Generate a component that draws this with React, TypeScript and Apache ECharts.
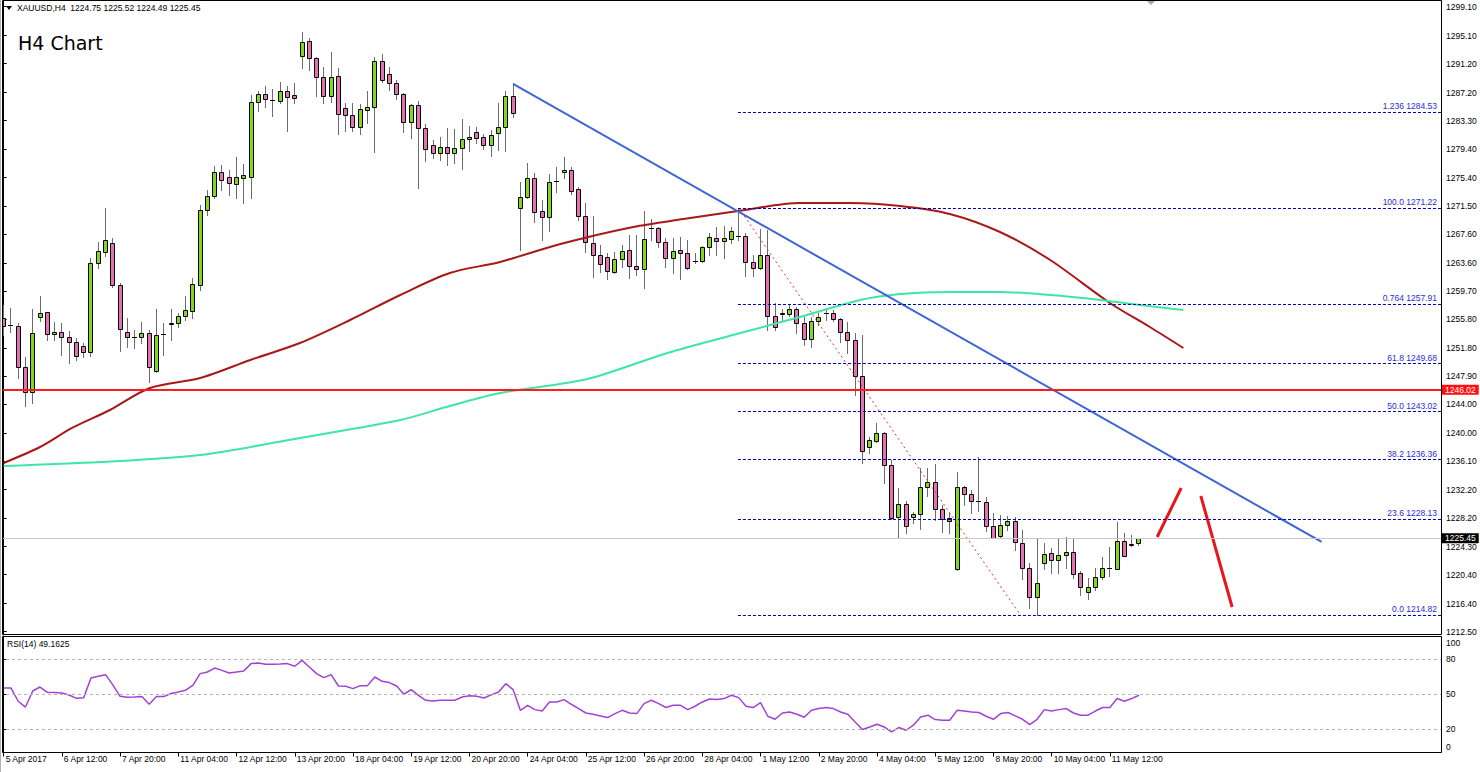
import React, { useEffect, useRef } from 'react';
import * as echarts from 'echarts';

const FONT = "'Liberation Sans', Arial, sans-serif";

// H4 candles, index 0 = 5 Apr 2017 04:00
const opens = [1255.97, 1255.00, 1254.86, 1249.18, 1245.71, 1256.11, 1256.80, 1253.75, 1254.03, 1253.34,
  1252.64, 1252.09, 1251.26, 1263.59, 1265.11, 1266.36, 1260.54, 1254.03, 1253.34, 1253.34,
  1253.89, 1248.62, 1253.75, 1255.14, 1255.28, 1256.25, 1256.94, 1260.54, 1270.93, 1272.87,
  1276.20, 1275.51, 1274.54, 1275.37, 1275.51, 1285.90, 1287.01, 1286.17, 1286.04, 1287.42,
  1286.87, 1292.27, 1294.35, 1291.99, 1289.36, 1286.73, 1289.50, 1285.07, 1284.10, 1282.43,
  1284.79, 1285.20, 1291.58, 1289.78, 1288.53, 1287.01, 1283.13, 1285.48, 1282.29, 1279.94,
  1278.83, 1279.66, 1278.83, 1279.52, 1280.77, 1281.74, 1281.05, 1279.94, 1281.60, 1282.43,
  1286.73, 1271.21, 1272.73, 1275.37, 1270.79, 1269.96, 1274.95, 1276.20, 1276.48, 1273.84,
  1270.10, 1266.36, 1264.70, 1264.42, 1262.34, 1264.14, 1265.39, 1263.17, 1262.76, 1268.44,
  1268.44, 1266.50, 1264.28, 1265.39, 1264.97, 1263.87, 1263.87, 1265.81, 1267.05, 1266.64,
  1266.91, 1267.33, 1267.33, 1263.73, 1262.90, 1264.70, 1256.25, 1256.52, 1256.52, 1257.22,
  1255.28, 1253.06, 1255.55, 1256.59, 1256.66, 1255.83, 1254.03, 1252.92, 1247.93, 1238.09,
  1238.93, 1240.03, 1235.60, 1228.39, 1230.20, 1228.39, 1228.81, 1232.55, 1233.24, 1229.50,
  1228.26, 1221.19, 1232.55, 1231.58, 1230.61, 1230.47, 1227.15, 1225.76, 1227.29, 1227.84,
  1224.79, 1221.33, 1217.31, 1222.02, 1223.41, 1222.44, 1223.13, 1223.55, 1220.64, 1218.00,
  1218.70, 1220.08, 1221.26, 1221.19, 1225.07, 1224.52, 1224.75];

const highs = [1257.77, 1257.35, 1255.28, 1250.56, 1257.22, 1259.02, 1256.80, 1255.41, 1255.28, 1254.17,
  1253.20, 1252.50, 1264.28, 1266.50, 1271.21, 1267.05, 1260.82, 1255.97, 1254.31, 1255.41,
  1254.31, 1257.22, 1255.28, 1257.22, 1256.66, 1259.02, 1261.51, 1271.63, 1273.70, 1277.03,
  1277.17, 1276.48, 1278.28, 1277.31, 1286.87, 1287.42, 1288.11, 1287.70, 1288.67, 1288.11,
  1288.53, 1295.60, 1294.77, 1292.13, 1290.75, 1292.83, 1290.61, 1285.76, 1285.76, 1285.62,
  1287.42, 1292.13, 1292.55, 1290.75, 1288.95, 1287.14, 1285.62, 1286.04, 1282.85, 1280.63,
  1281.05, 1282.29, 1282.16, 1283.54, 1282.57, 1282.43, 1281.46, 1282.02, 1285.76, 1287.42,
  1288.53, 1274.81, 1277.45, 1276.06, 1272.32, 1275.92, 1276.89, 1278.28, 1276.89, 1274.12,
  1271.90, 1270.10, 1266.08, 1264.97, 1265.11, 1266.08, 1267.47, 1267.47, 1270.79, 1269.69,
  1268.58, 1267.05, 1267.05, 1267.19, 1266.78, 1264.97, 1265.94, 1267.75, 1268.58, 1268.72,
  1268.58, 1271.22, 1267.75, 1264.70, 1268.30, 1268.16, 1258.05, 1257.22, 1257.91, 1257.49,
  1256.11, 1256.11, 1256.66, 1257.22, 1257.08, 1255.97, 1255.41, 1253.89, 1253.61, 1239.48,
  1241.42, 1240.17, 1236.29, 1232.41, 1230.61, 1229.09, 1235.18, 1235.18, 1235.74, 1230.06,
  1228.95, 1234.63, 1232.69, 1232.14, 1236.71, 1231.17, 1228.95, 1228.67, 1228.53, 1228.39,
  1226.59, 1222.02, 1225.49, 1224.79, 1224.10, 1225.49, 1225.62, 1225.49, 1220.91, 1219.94,
  1221.33, 1222.85, 1224.24, 1227.70, 1226.18, 1225.90, 1225.52];

const lows = [1253.61, 1254.03, 1247.65, 1243.78, 1244.19, 1255.55, 1252.92, 1252.92, 1250.84, 1249.73,
  1250.15, 1250.56, 1250.70, 1262.90, 1264.56, 1260.26, 1251.40, 1251.95, 1251.81, 1252.50,
  1247.10, 1248.49, 1250.84, 1252.92, 1254.72, 1255.69, 1255.97, 1259.85, 1270.24, 1272.60,
  1273.70, 1273.01, 1272.60, 1271.90, 1272.60, 1284.65, 1285.20, 1283.96, 1285.76, 1281.88,
  1285.76, 1290.61, 1290.33, 1286.73, 1285.76, 1285.90, 1281.46, 1281.88, 1281.88, 1281.46,
  1282.99, 1278.97, 1288.67, 1287.56, 1286.31, 1281.74, 1280.91, 1273.98, 1277.72, 1278.14,
  1277.86, 1277.17, 1277.45, 1276.61, 1279.11, 1280.22, 1279.39, 1278.42, 1279.25, 1279.11,
  1283.82, 1265.39, 1272.60, 1269.27, 1266.78, 1268.02, 1273.43, 1275.37, 1273.15, 1269.55,
  1265.11, 1261.65, 1262.34, 1261.37, 1262.20, 1263.03, 1261.51, 1261.93, 1260.12, 1266.78,
  1265.81, 1263.03, 1262.20, 1261.37, 1262.76, 1263.59, 1263.73, 1264.70, 1264.70, 1264.28,
  1266.36, 1266.78, 1261.79, 1261.79, 1262.76, 1254.31, 1254.31, 1255.69, 1256.25, 1253.89,
  1252.23, 1251.95, 1255.00, 1255.69, 1255.55, 1252.64, 1251.12, 1245.30, 1235.88, 1237.26,
  1238.79, 1233.11, 1228.12, 1225.62, 1226.18, 1227.56, 1226.73, 1231.30, 1227.98, 1226.32,
  1226.18, 1221.05, 1230.06, 1228.95, 1229.23, 1226.45, 1225.49, 1225.62, 1226.59, 1223.82,
  1219.80, 1215.79, 1214.82, 1221.19, 1220.64, 1220.64, 1221.33, 1219.94, 1217.59, 1217.03,
  1218.28, 1219.80, 1220.22, 1221.19, 1222.99, 1224.38, 1224.49];

const closes = [1254.86, 1255.00, 1249.18, 1245.71, 1253.89, 1256.66, 1253.75, 1254.03, 1253.34, 1252.64,
  1250.70, 1251.26, 1263.59, 1265.25, 1266.78, 1260.54, 1254.44, 1253.34, 1253.30, 1253.89,
  1249.18, 1253.61, 1253.70, 1255.28, 1256.25, 1257.08, 1260.68, 1270.93, 1272.87, 1276.20,
  1275.09, 1274.67, 1275.51, 1275.78, 1285.90, 1287.01, 1286.31, 1286.15, 1287.42, 1286.59,
  1286.45, 1294.21, 1291.99, 1289.36, 1286.73, 1289.36, 1284.23, 1284.10, 1282.43, 1284.93,
  1285.20, 1291.58, 1288.95, 1288.53, 1287.01, 1283.13, 1285.48, 1282.29, 1279.39, 1278.83,
  1279.66, 1278.83, 1279.52, 1280.77, 1281.05, 1280.91, 1279.94, 1281.32, 1282.43, 1286.73,
  1284.37, 1272.73, 1275.37, 1270.66, 1269.96, 1274.81, 1274.90, 1276.48, 1273.57, 1270.10,
  1266.50, 1264.70, 1263.45, 1262.48, 1264.14, 1265.25, 1263.17, 1262.76, 1266.91, 1268.40,
  1266.50, 1264.28, 1265.25, 1264.97, 1262.90, 1263.85, 1265.81, 1267.19, 1266.64, 1267.05,
  1268.02, 1267.30, 1263.73, 1262.90, 1264.70, 1256.25, 1254.72, 1256.66, 1257.22, 1255.28,
  1253.06, 1255.55, 1256.11, 1256.66, 1255.83, 1254.03, 1252.92, 1247.93, 1237.54, 1239.06,
  1240.03, 1235.60, 1228.26, 1230.20, 1227.15, 1228.81, 1232.55, 1233.24, 1229.50, 1228.12,
  1227.84, 1232.55, 1231.58, 1230.61, 1230.55, 1227.15, 1225.49, 1227.29, 1227.84, 1224.93,
  1221.33, 1217.31, 1219.25, 1223.27, 1222.44, 1223.13, 1223.55, 1220.50, 1218.70, 1218.70,
  1220.08, 1221.33, 1221.33, 1225.07, 1222.99, 1224.65, 1225.45];

const rsiValues = [55.4, 55.4, 44, 39, 52.8, 56.2, 51.7, 51.5, 51, 49.4,
  46.5, 47.1, 63.9, 65.4, 66.8, 58, 48.2, 47.4, 47.6, 48,
  41.4, 48, 48, 50.6, 52, 53.5, 57.7, 67.7, 69.1, 72.5,
  70.5, 68.2, 69.1, 69.9, 76.3, 76.8, 75.7, 75.7, 75.9, 76.3,
  74, 79.1, 73.4, 67.7, 64.3, 66.8, 57.1, 56.8, 54.8, 57.4,
  57.4, 64.8, 61.1, 60, 57.1, 50, 54, 49.1, 44.8, 44.2,
  44.8, 44.8, 44.8, 47.6, 48.8, 48.2, 46.8, 49.5, 51.9, 59.1,
  54, 36.2, 40.5, 36.8, 35.6, 43.4, 43.4, 45.4, 41.4, 37.7,
  33.9, 32.8, 31.4, 30, 33.4, 36.2, 33.9, 33.4, 42, 44.8,
  42, 38.6, 40.5, 40.5, 36.8, 39.7, 43.4, 45.9, 45.4, 46.3,
  49.1, 47.1, 39.7, 38.6, 42.8, 31.1, 28.5, 33.9, 34.8, 32.8,
  30.2, 36.2, 37.7, 38.6, 37.7, 34.8, 32.8, 26.2, 19.7, 21.9,
  24.3, 21.9, 17.7, 21.4, 19.1, 23.4, 30.5, 32, 28.3, 27.7,
  27.7, 36.2, 35.6, 34.8, 34.3, 31.1, 28.5, 33.4, 34.3, 31.4,
  28.5, 24, 28.5, 36.8, 35.6, 36.8, 37.7, 33.9, 32, 32,
  35.6, 38.6, 38.6, 46.3, 44, 46.3, 49.16];

// moving averages read at [bar position, price]
const redMA = [[0, 1235.88], [5, 1238.09], [9.4, 1240.73], [14.6, 1243.22], [20.1, 1246.27], [27, 1247.65],
  [33.9, 1250.15], [40.7, 1252.5], [47.6, 1255.69], [54.5, 1259.15], [61.3, 1262.2], [68.2, 1263.73],
  [76.5, 1266.22], [86.5, 1268.58], [93.4, 1269.68], [100.9, 1270.79], [109.4, 1271.9], [116.3, 1271.9],
  [123.2, 1271.49], [130, 1270.38], [136.9, 1267.88], [143.8, 1264.0], [152, 1258.05], [157.5, 1254.72],
  [162.1, 1251.81]];
const greenMA = [[0, 1235.46], [13.3, 1236.01], [27, 1236.98], [40.7, 1239.34], [54.5, 1241.83], [61.3, 1243.77],
  [68.2, 1245.57], [80.2, 1247.51], [91.2, 1251.12], [100.2, 1253.61], [109.4, 1256.1], [117.7, 1258.46],
  [123.2, 1259.29], [130, 1259.57], [136.9, 1259.57], [143.8, 1259.15], [150.7, 1258.46], [156.2, 1257.77],
  [162.1, 1257.08]];

const trendLine = [[70, 1288.4], [181.1, 1224.93]];
const arrowUp = [[158.5, 1225.62], [161.8, 1232.41]];
const arrowDown = [[164.5, 1231.3], [168.8, 1215.92]];
const fibDiagonal = [[101, 1271.22], [139.7, 1214.82]];
const fibStart = 100.9;
const fibRatios = ['1.236', '100.0', '0.764', '61.8', '50.0', '38.2', '23.6', '0.0'];
const fibPrices = [1284.53, 1271.22, 1257.91, 1249.68, 1243.02, 1236.36, 1228.13, 1214.82];
const supportLevel = 1246.02;
const lastPrice = 1225.45;

const priceTicks = [1212.5, 1216.4, 1220.4, 1224.3, 1228.2, 1232.2, 1236.1, 1240.0, 1244.0, 1247.9, 1251.8,
  1255.8, 1259.7, 1263.6, 1267.6, 1271.5, 1275.4, 1279.4, 1283.3, 1287.2, 1291.2, 1295.1, 1299.1];
const timeLabels = ['5 Apr 2017', '6 Apr 12:00', '7 Apr 20:00', '11 Apr 04:00', '12 Apr 12:00', '13 Apr 20:00',
  '18 Apr 04:00', '19 Apr 12:00', '20 Apr 20:00', '24 Apr 04:00', '25 Apr 12:00', '26 Apr 20:00',
  '28 Apr 04:00', '1 May 12:00', '2 May 20:00', '4 May 04:00', '5 May 12:00', '8 May 20:00',
  '10 May 04:00', '11 May 12:00'];
const timeLabelStep = 8;
const rsiTicks = [0, 20, 50, 80, 100];
const rsiLevels = [80, 50, 20];

const SLOT_MIN = -0.5;
const SLOT_MAX = 197.5;
const BULL = '#84d81c';
const BEAR = '#e571b4';

function buildOption(): any {
  const candleData = opens.map((o, i) => [i, o, closes[i], lows[i], highs[i]]);
  const rsiData = rsiValues.map((v, i) => [i, v]);
  const timeTicks = timeLabels.map((_, k) => k * timeLabelStep);

  const renderCandle = (params: any, api: any) => {
    const i = api.value(0);
    const o = api.value(1), c = api.value(2), l = api.value(3), h = api.value(4);
    const po = api.coord([i, o]);
    const pc = api.coord([i, c]);
    const pl = api.coord([i, l]);
    const ph = api.coord([i, h]);
    const n = Math.floor(po[0]);
    const cx = n + 0.5;
    const yTop = Math.round(Math.min(po[1], pc[1]));
    const yBot = Math.round(Math.max(po[1], pc[1]));
    const children: any[] = [
      { type: 'line', shape: { x1: cx, y1: Math.round(ph[1]), x2: cx, y2: Math.round(pl[1]) + 1 }, style: { stroke: '#6c6c6c', lineWidth: 1 } },
    ];
    if (yBot - yTop < 1) {
      children.push({ type: 'line', shape: { x1: n - 2, y1: yTop + 0.5, x2: n + 3, y2: yTop + 0.5 }, style: { stroke: '#000', lineWidth: 1 } });
    } else {
      children.push({ type: 'rect', shape: { x: n - 1.5, y: yTop + 0.5, width: 4, height: yBot - yTop }, style: { fill: c > o ? BULL : BEAR, stroke: '#000', lineWidth: 1 } });
    }
    return { type: 'group', children };
  };

  const fibMarks = fibRatios.map((r, k) => [
    {
      coord: [fibStart, fibPrices[k]],
      lineStyle: { color: '#0000b4', width: 1, type: [3, 2] },
      label: { show: true, position: 'insideEndTop', formatter: r + ' ' + fibPrices[k].toFixed(2), color: '#2b2bd0', fontSize: 8.5, fontFamily: FONT, distance: [4, 1] },
    },
    { coord: [SLOT_MAX, fibPrices[k]] },
  ]);

  return {
    animation: false,
    backgroundColor: '#ffffff',
    grid: [
      { left: 0, top: 1, width: 1441, height: 633, show: false },
      { left: 0, top: 636, width: 1441, height: 116.5, show: false },
    ],
    xAxis: [
      { type: 'value', gridIndex: 0, min: SLOT_MIN, max: SLOT_MAX, show: false },
      {
        type: 'value', gridIndex: 1, min: SLOT_MIN, max: SLOT_MAX,
        axisLine: { show: true, lineStyle: { color: '#000' } },
        axisTick: { show: true, length: 4, customValues: timeTicks, lineStyle: { color: '#000' } },
        axisLabel: {
          customValues: timeTicks,
          formatter: (v: number) => timeLabels[Math.round(v / timeLabelStep)] || '',
          align: 'left', margin: 2, padding: [0, 0, 0, 2], color: '#000', fontSize: 8.5, fontFamily: FONT,
        },
        splitLine: { show: false },
      },
    ],
    yAxis: [
      {
        type: 'value', gridIndex: 0, position: 'right', min: 1212.18, max: 1299.89,
        axisLine: { show: true, lineStyle: { color: '#000' } },
        axisTick: { show: true, length: 3, customValues: priceTicks, lineStyle: { color: '#000' } },
        axisLabel: { customValues: priceTicks, formatter: (v: number) => v.toFixed(2), color: '#000', fontSize: 8.5, fontFamily: FONT, margin: 5 },
        splitLine: { show: false },
      },
      {
        type: 'value', gridIndex: 1, position: 'right', min: 0, max: 100,
        axisLine: { show: true, lineStyle: { color: '#000' } },
        axisTick: { show: true, length: 3, customValues: rsiLevels, lineStyle: { color: '#000' } },
        axisLabel: {
          customValues: rsiTicks, color: '#000', fontSize: 8.5, fontFamily: FONT, margin: 5,
          formatter: (v: number) => (v === 100 ? '{t|100}' : v === 0 ? '{b|0}' : String(v)),
          rich: {
            t: { padding: [14, 0, 0, 0], fontSize: 8.5, fontFamily: FONT, color: '#000' },
            b: { padding: [0, 0, 11, 0], fontSize: 8.5, fontFamily: FONT, color: '#000' },
          },
        },
        splitLine: { show: false },
      },
    ],
    series: [
      {
        type: 'custom', name: 'XAUUSD', xAxisIndex: 0, yAxisIndex: 0, z: 2, clip: true,
        renderItem: renderCandle, encode: { x: 0, y: [1, 2, 3, 4] }, data: candleData,
      },
      {
        type: 'line', name: 'MA red', xAxisIndex: 0, yAxisIndex: 0, data: redMA, smooth: 0.3, symbol: 'none', z: 3,
        lineStyle: { color: '#a81818', width: 2 },
      },
      {
        type: 'line', name: 'MA green', xAxisIndex: 0, yAxisIndex: 0, data: greenMA, smooth: 0.3, symbol: 'none', z: 3,
        lineStyle: { color: '#3ee6a4', width: 2 },
      },
      {
        type: 'line', name: 'Fib', xAxisIndex: 0, yAxisIndex: 0, data: fibDiagonal, symbol: 'none', z: 3,
        lineStyle: { color: '#e03535', width: 1, type: [2, 3] },
        markLine: {
          symbol: ['none', 'none'], silent: true, animation: false,
          data: [
            ...fibMarks,
            {
              yAxis: supportLevel,
              lineStyle: { color: '#ff1c1c', width: 2, type: 'solid' },
              label: { show: true, position: 'end', distance: 0, formatter: supportLevel.toFixed(2), color: '#fff', backgroundColor: '#ff1010', padding: [1, 3, 0, 4], fontSize: 8.5, fontFamily: FONT },
            },
            {
              yAxis: lastPrice,
              lineStyle: { color: '#c8c8c8', width: 1, type: 'solid' },
              label: { show: true, position: 'end', distance: 0, formatter: lastPrice.toFixed(2), color: '#fff', backgroundColor: '#000', padding: [1, 3, 0, 4], fontSize: 8.5, fontFamily: FONT },
            },
          ],
        },
      },
      {
        type: 'line', name: 'Trend', xAxisIndex: 0, yAxisIndex: 0, data: trendLine, symbol: 'none', z: 4,
        lineStyle: { color: '#3c66d6', width: 2 },
      },
      {
        type: 'line', name: 'Up', xAxisIndex: 0, yAxisIndex: 0, data: arrowUp, symbol: 'none', z: 4,
        lineStyle: { color: '#e8161b', width: 3 },
      },
      {
        type: 'line', name: 'Down', xAxisIndex: 0, yAxisIndex: 0, data: arrowDown, symbol: 'none', z: 4,
        lineStyle: { color: '#e8161b', width: 3 },
      },
      {
        type: 'line', name: 'RSI(14)', xAxisIndex: 1, yAxisIndex: 1, data: rsiData, symbol: 'none', z: 3,
        lineStyle: { color: '#a043d4', width: 1.5 },
        markLine: {
          symbol: ['none', 'none'], silent: true, animation: false, label: { show: false },
          lineStyle: { color: '#b4b4b4', width: 1, type: [3, 3] },
          data: rsiLevels.map((v) => ({ yAxis: v })),
        },
      },
    ],
    graphic: [
      { type: 'rect', silent: true, z: 100, shape: { x: 0, y: 0, width: 2.5, height: 772 }, style: { fill: '#fff' } },
      { type: 'line', silent: true, z: 101, shape: { x1: 0.5, y1: 0, x2: 0.5, y2: 772 }, style: { stroke: '#b0b0b0', lineWidth: 1 } },
      { type: 'rect', silent: true, z: 101, shape: { x: 2.5, y: 0.5, width: 1439, height: 634 }, style: { fill: 'none', stroke: '#000', lineWidth: 1 } },
      { type: 'rect', silent: true, z: 101, shape: { x: 2.5, y: 636.5, width: 1439, height: 116 }, style: { fill: 'none', stroke: '#000', lineWidth: 1 } },
      { type: 'polygon', silent: true, z: 101, shape: { points: [[6, 6], [12, 6], [9, 10]] }, style: { fill: '#000' } },
      { type: 'polygon', silent: true, z: 101, shape: { points: [[1147, 1], [1155, 1], [1151, 5]] }, style: { fill: '#a8a8a8' } },
      { type: 'text', silent: true, z: 101, style: { text: 'XAUUSD,H4  1224.75 1225.52 1224.49 1225.45', x: 17, y: 8, fill: '#000', fontSize: 8.5, fontFamily: FONT, verticalAlign: 'middle' } },
      { type: 'text', silent: true, z: 101, style: { text: 'H4 Chart', x: 18, y: 42.5, fill: '#000', fontSize: 19, fontFamily: "'DejaVu Sans', sans-serif", verticalAlign: 'middle' } },
      { type: 'text', silent: true, z: 101, style: { text: 'RSI(14) 49.1625', x: 7, y: 644, fill: '#000', fontSize: 8.5, fontFamily: FONT, verticalAlign: 'middle' } },
    ],
  };
}

export default function App() {
  const ref = useRef<HTMLDivElement>(null);
  useEffect(() => {
    if (!ref.current) return;
    const chart = echarts.init(ref.current, null, { renderer: 'svg' });
    chart.setOption(buildOption());
    return () => chart.dispose();
  }, []);
  return <div ref={ref} style={{ position: 'fixed', left: 0, top: 0, width: 1480, height: 772, background: '#fff' }} />;
}
